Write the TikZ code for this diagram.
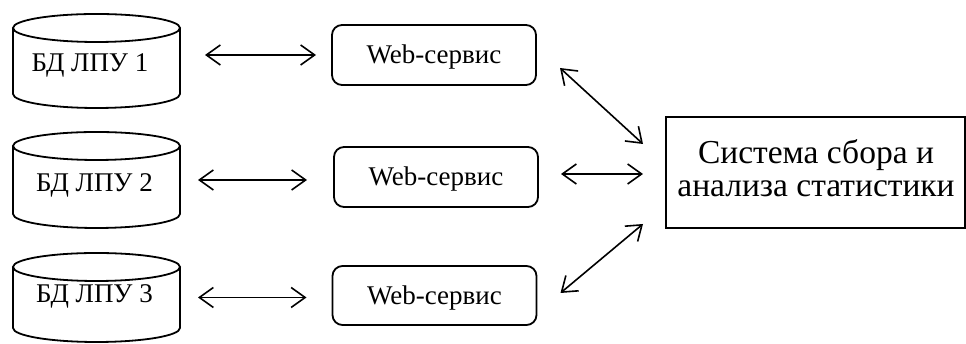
\documentclass[tikz,border=0pt]{standalone}
\usepackage{fontspec}
\setmainfont{Liberation Serif}
\usetikzlibrary{arrows.meta}

% database cylinder: centre x, top y, bottom y (all in picture units)
\newcommand\dbdraw[3]{%
  \draw[dbline] (#1-83.5,#2-14) -- (#1-83.5,#3+14)
    arc[start angle=180,end angle=360,x radius=83.5,y radius=14]
    -- (#1+83.5,#2-14);
  \draw[dbline] (#1,#2-14) ellipse [x radius=83.5,y radius=14];}

\begin{document}
\begin{tikzpicture}[x=1pt,y=1pt,
  dbbox/.style={rectangle,draw=none,inner sep=0pt,outer sep=0pt,minimum width=167pt},
  dbline/.style={line width=1.8pt},
  lbl/.style={font=\fontsize{27}{30}\selectfont,inner sep=0pt,text height=17.8pt,text depth=0pt},
  websvc/.style={lbl,draw,line width=1.8pt,rounded corners=10pt,minimum width=204pt,outer sep=0pt},
  sysbox/.style={draw,line width=1.8pt,minimum width=299pt,minimum height=111pt,inner sep=0pt,outer sep=0pt},
  systext/.style={font=\fontsize{33.5}{33.5}\selectfont,align=center,inner sep=0pt},
  link/.style={line width=1.6pt,{Straight Barb[length=14pt,width=20pt]}-{Straight Barb[length=14pt,width=20pt]}}]

\useasboundingbox (0,0) rectangle (966,344);

% databases
\node[dbbox,minimum height=94pt] (db1) at (96.5,283) {};
\node[dbbox,minimum height=96pt] (db2) at (96.5,164) {};
\node[dbbox,minimum height=89pt] (db3) at (96.5,46.5) {};
\dbdraw{96.5}{330}{236}
\dbdraw{96.5}{212}{116}
\dbdraw{96.5}{91}{2}
\node[lbl] (db1t) at (90,281.5) {БД ЛПУ 1};
\node[lbl] (db2t) at (94.5,161.5) {БД ЛПУ 2};
\node[lbl] (db3t) at (94.5,50) {БД ЛПУ 3};

% web services
\node[websvc,minimum height=60pt] (web1) at (434,289) {Web-сервис};
\node[websvc,minimum height=60pt] (web2) at (436,167) {Web-сервис};
\node[websvc,minimum height=59pt] (web3) at (434.5,48.5) {Web-сервис};

% statistics system
\node[sysbox] (sys) at (815.5,171.5) {};
\node[systext] (systxt) at (816,176) {Система сбора и\\анализа статистики};

% links database <-> web service
\draw[link] ([xshift=25pt]db1.east |- web1.west) -- ([xshift=-16pt]web1.west);
\draw[link] ([xshift=18pt]db2.east) -- ([xshift=-27pt]web2.west |- db2.east);
\draw[link] ([xshift=18pt]db3.east) -- ([xshift=-26pt]web3.west |- db3.east);

% links web service <-> system
\draw[link] ([shift={(24pt,-13pt)}]web1.east) -- ([shift={(-23pt,28.5pt)}]sys.west);
\draw[link] ([shift={(23pt,3pt)}]web2.east) -- ([shift={(-23pt,-1.5pt)}]sys.west);
\draw[link] ([shift={(24pt,2.5pt)}]web3.east) -- ([shift={(-23pt,-51.5pt)}]sys.west);
\end{tikzpicture}
\end{document}
